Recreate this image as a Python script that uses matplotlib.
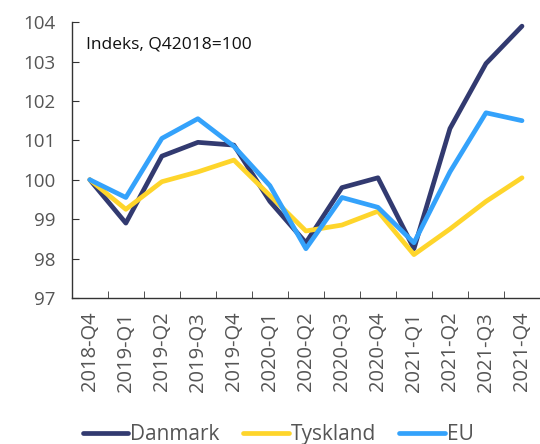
import matplotlib
matplotlib.use('Agg')
import matplotlib.pyplot as plt
import numpy as np

# Data
quarters = ['2018-Q4', '2019-Q1', '2019-Q2', '2019-Q3', '2019-Q4',
            '2020-Q1', '2020-Q2', '2020-Q3', '2020-Q4',
            '2021-Q1', '2021-Q2', '2021-Q3', '2021-Q4']
danmark = [100.0, 98.9, 100.6, 100.95, 100.88, 99.45, 98.4, 99.8, 100.05, 98.25, 101.3, 102.95, 103.9]
tyskland = [100.0, 99.25, 99.95, 100.2, 100.5, 99.6, 98.7, 98.85, 99.2, 98.1, 98.75, 99.45, 100.05]
eu = [100.0, 99.55, 101.05, 101.55, 100.85, 99.85, 98.25, 99.55, 99.3, 98.4, 100.2, 101.7, 101.5]

plt.rcParams['font.family'] = ['Open Sans', 'DejaVu Sans']

fig = plt.figure(figsize=(5.4, 4.44), dpi=100)
ax = fig.add_axes([0.133, 0.329, 0.867, 0.621])

x = np.arange(len(quarters))
ax.plot(x, danmark, color='#323a70', lw=3.4, label='Danmark', solid_capstyle='round')
ax.plot(x, tyskland, color='#fed52b', lw=3.4, label='Tyskland', solid_capstyle='round')
ax.plot(x, eu, color='#34a2fb', lw=3.4, label='EU', solid_capstyle='round')

ax.set_ylim(97, 104)
ax.set_xlim(-0.5, len(quarters) - 0.5)
ax.set_yticks(range(97, 105))
ax.set_xticks(x)
ax.set_xticklabels(quarters, rotation=90)
ax.set_xticks(np.arange(-0.5, len(quarters), 1), minor=True)

ax.tick_params(axis='y', direction='in', length=5, labelsize=13.5, labelcolor='#555555', pad=12, color='#333333')
ax.tick_params(axis='x', which='major', length=0, labelsize=14.5, labelcolor='#555555', pad=10)
ax.tick_params(axis='x', which='minor', direction='in', length=5, color='#333333')

for s in ['top', 'right']:
    ax.spines[s].set_visible(False)
for s in ['left', 'bottom']:
    ax.spines[s].set_color('#333333')
    ax.spines[s].set_linewidth(1.0)

ax.text(0.03, 0.92, 'Indeks, Q42018=100', transform=ax.transAxes, fontsize=12.5, color='#111111', va='center')

fig.legend(loc='lower center', bbox_to_anchor=(0.515, -0.045), ncol=3, frameon=False,
           fontsize=15, handlelength=2.2, handletextpad=0.1, columnspacing=1.1,
           labelcolor='#555555')

fig.savefig('out.png', dpi=100)
